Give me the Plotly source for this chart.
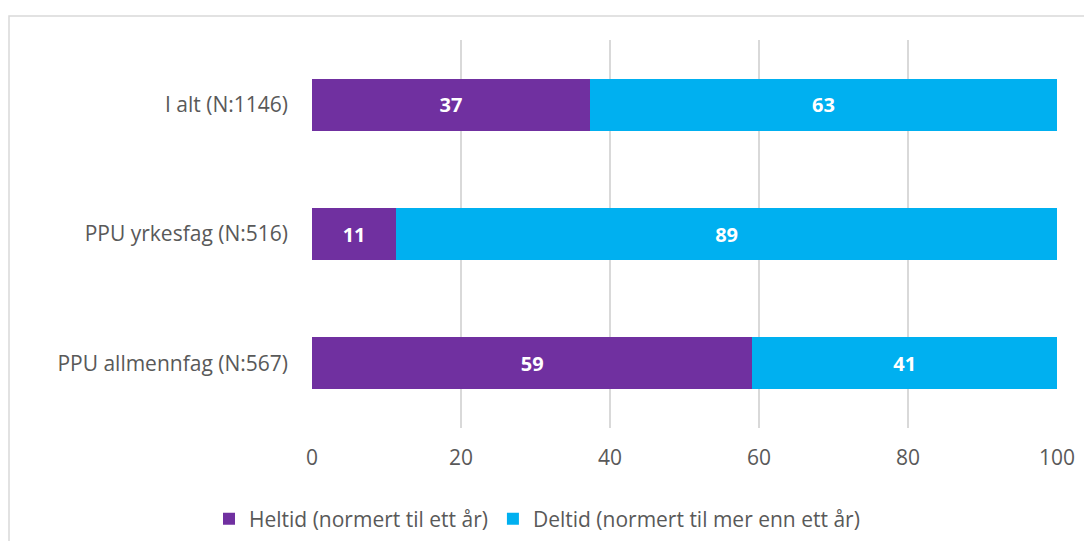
import plotly.graph_objects as go

categories = ["PPU allmennfag (N:567)", "PPU yrkesfag (N:516)", "I alt (N:1146)"]
heltid = [59.1, 11.3, 37.3]
deltid = [40.9, 88.7, 62.7]
x_ticks = [0, 20, 40, 60, 80, 100]
series_names = ["Heltid (normert til ett år)", "Deltid (normert til mer enn ett år)"]

FONT = "Open Sans"
OFF = 8  # page body margin
W, H = 1092 - OFF, 541 - OFF
L, R, T = 312 - OFF, 35, 40 - OFF
B = H - T - 388
pw, ph = W - L - R, H - T - B

fig = go.Figure()
for name, vals, col in [(series_names[0], heltid, "#7030A0"), (series_names[1], deltid, "#00B0F0")]:
    fig.add_trace(go.Bar(
        y=categories, x=vals, name=name, orientation="h",
        marker=dict(color=col, line=dict(width=0)),
        texttemplate="%{x:.0f}", textposition="inside", insidetextanchor="middle",
        textfont=dict(family=FONT, size=20, color="white", weight="bold"),
        hoverinfo="skip",
    ))

fig.update_layout(
    width=W, height=H, barmode="stack", bargap=0.6,
    margin=dict(l=L, r=R, t=T, b=B),
    paper_bgcolor="white", plot_bgcolor="white",
    font=dict(family=FONT, size=21, color="#595959"),
    uniformtext=dict(minsize=20, mode="show"),
    xaxis=dict(range=[0, 100], tickvals=x_ticks, showgrid=True, gridcolor="#D9D9D9",
               gridwidth=1.5, zeroline=False, showline=False, ticks="",
               tickfont=dict(size=21, color="#595959"), ticklabelstandoff=15),
    yaxis=dict(range=[-0.5, 2.5], showgrid=False, zeroline=False, showline=False,
               ticks="", ticklabelstandoff=23, tickfont=dict(size=21, color="#595959")),
    showlegend=True,
    legend=dict(orientation="h", xref="container", yref="container",
                x=(537 - OFF) / W, y=1 - (519 - OFF) / H,
                xanchor="center", yanchor="middle", font=dict(size=21, color="#595959"),
                traceorder="normal", itemwidth=30),
    shapes=[dict(type="rect", xref="paper", yref="paper",
                 x0=(9 - 312) / pw, x1=(1110 - 312) / pw,
                 y0=1 - (560 - 40) / ph, y1=1 + (40 - 16) / ph,
                 line=dict(color="#D9D9D9", width=1.5), fillcolor="rgba(0,0,0,0)", layer="below")],
)

fig.write_html("out.html")
